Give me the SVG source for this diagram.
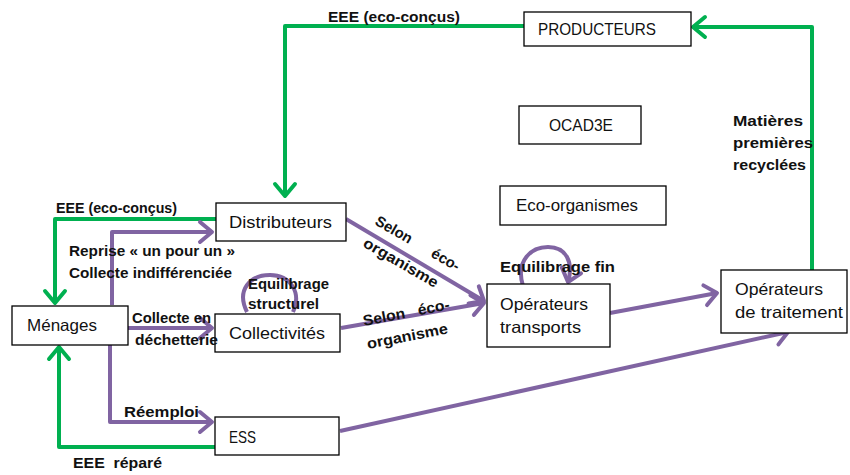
<svg xmlns="http://www.w3.org/2000/svg" width="850" height="475" viewBox="0 0 850 475">
<style>
.box{fill:#fff;stroke:#000;stroke-width:1.3}
.nt{font-family:"Liberation Sans",Arial,sans-serif;font-size:16.5px;fill:#111}
.lb{font-family:"Liberation Sans",Arial,sans-serif;font-size:15px;font-weight:bold;fill:#111}
.g{fill:none;stroke:#00B050;stroke-width:4;stroke-linejoin:round}
.p{fill:none;stroke:#8064A2;stroke-width:4;stroke-linejoin:round}
</style>
<defs>
<marker id="ag" markerUnits="userSpaceOnUse" markerWidth="18" markerHeight="24" refX="13" refY="11" orient="auto" overflow="visible">
<path d="M1,1 L13,11 L1,21" fill="none" stroke="#00B050" stroke-width="4" stroke-linecap="round" stroke-linejoin="round"/>
</marker>
<marker id="ap" markerUnits="userSpaceOnUse" markerWidth="18" markerHeight="24" refX="13" refY="11" orient="auto" overflow="visible">
<path d="M1,1 L13,11 L1,21" fill="none" stroke="#8064A2" stroke-width="4" stroke-linecap="round" stroke-linejoin="round"/>
</marker>
</defs>
<rect width="850" height="475" fill="#fff"/>
<g id="connectors">
<polyline class="g" points="524,26 285,26 285,196" marker-end="url(#ag)"/>
<polyline class="g" points="812,270 812,27 693,27" marker-end="url(#ag)"/>
<polyline class="g" points="216,219 55,219 55,303" marker-end="url(#ag)"/>
<polyline class="g" points="215,447 59,447 59,347" marker-end="url(#ag)"/>
<polyline class="p" points="112,305 112,232 212,232" marker-end="url(#ap)"/>
<polyline class="p" points="128,328 212,328" marker-end="url(#ap)"/>
<polyline class="p" points="110,345 110,422 212,422" marker-end="url(#ap)"/>
<line class="p" x1="346" y1="219" x2="484" y2="301" marker-end="url(#ap)"/>
<line class="p" x1="341" y1="328" x2="484" y2="303" marker-end="url(#ap)"/>
<line class="p" x1="610" y1="313" x2="717" y2="293" marker-end="url(#ap)"/>
<line class="p" x1="340" y1="431" x2="788" y2="332" marker-end="url(#ap)"/>
<path class="p" d="M247,312 C236,290 250,275 270,275 C290,275 302,292 293,312"/>
<path class="p" d="M523,286 C515,260 532,247 548,247 C566,247 574,262 568,282" marker-end="url(#ap)"/>
</g>
<g id="producteurs"><rect class="box" x="524" y="12" width="167" height="34"/><text class="nt" x="538" y="35" textLength="118" lengthAdjust="spacingAndGlyphs">PRODUCTEURS</text></g>
<g id="ocad3e"><rect class="box" x="519" y="106" width="122" height="38"/><text class="nt" x="549" y="131" textLength="64" lengthAdjust="spacingAndGlyphs">OCAD3E</text></g>
<g id="ecoorganismes"><rect class="box" x="500" y="186" width="166" height="39"/><text class="nt" x="516" y="211" textLength="122" lengthAdjust="spacingAndGlyphs">Eco-organismes</text></g>
<g id="distributeurs"><rect class="box" x="216" y="203" width="130" height="38"/><text class="nt" x="229" y="228" textLength="103" lengthAdjust="spacingAndGlyphs">Distributeurs</text></g>
<g id="collectivites"><rect class="box" x="215" y="314" width="125" height="38"/><text class="nt" x="229" y="339" textLength="96" lengthAdjust="spacingAndGlyphs">Collectivités</text></g>
<g id="menages"><rect class="box" x="12" y="306" width="116" height="39"/><text class="nt" x="27" y="331" textLength="70" lengthAdjust="spacingAndGlyphs">Ménages</text></g>
<g id="ess"><rect class="box" x="215" y="417" width="124" height="38"/><text class="nt" x="229" y="443" textLength="27" lengthAdjust="spacingAndGlyphs">ESS</text></g>
<g id="operateurs-transports"><rect class="box" x="487" y="284" width="123" height="63"/><text class="nt" x="500" y="310" textLength="88" lengthAdjust="spacingAndGlyphs">Opérateurs</text><text class="nt" x="500" y="333" textLength="81" lengthAdjust="spacingAndGlyphs">transports</text></g>
<g id="operateurs-traitement"><rect class="box" x="721" y="270" width="126" height="63"/><text class="nt" x="735" y="295" textLength="88" lengthAdjust="spacingAndGlyphs">Opérateurs</text><text class="nt" x="735" y="318" textLength="108" lengthAdjust="spacingAndGlyphs">de traitement</text></g>
<g id="labels">
<text class="lb" x="328" y="22" textLength="132" lengthAdjust="spacingAndGlyphs">EEE (eco-conçus)</text>
<text class="lb" x="56" y="213" textLength="121" lengthAdjust="spacingAndGlyphs">EEE (eco-conçus)</text>
<text class="lb" x="69" y="256" textLength="166" lengthAdjust="spacingAndGlyphs">Reprise « un pour un »</text>
<text class="lb" x="69" y="278" textLength="163" lengthAdjust="spacingAndGlyphs">Collecte indifférenciée</text>
<text class="lb" x="132" y="323" textLength="79" lengthAdjust="spacingAndGlyphs">Collecte en</text>
<text class="lb" x="135" y="345" textLength="83" lengthAdjust="spacingAndGlyphs">déchetterie</text>
<text class="lb" x="248" y="289" textLength="81" lengthAdjust="spacingAndGlyphs">Equilibrage</text>
<text class="lb" x="248" y="309" textLength="71" lengthAdjust="spacingAndGlyphs">structurel</text>
<text class="lb" x="124" y="417" textLength="75" lengthAdjust="spacingAndGlyphs">Réemploi</text>
<text class="lb" x="73" y="468" textLength="89" lengthAdjust="spacingAndGlyphs" xml:space="preserve">EEE  réparé</text>
<text class="lb" x="500" y="272" textLength="115" lengthAdjust="spacingAndGlyphs">Equilibrage fin</text>
<text class="lb" x="733" y="126" textLength="70" lengthAdjust="spacingAndGlyphs">Matières</text>
<text class="lb" x="733" y="148" textLength="80" lengthAdjust="spacingAndGlyphs">premières</text>
<text class="lb" x="733" y="170" textLength="73" lengthAdjust="spacingAndGlyphs">recyclées</text>
<text class="lb" transform="translate(374,224) rotate(30)" textLength="95" lengthAdjust="spacingAndGlyphs" xml:space="preserve">Selon      éco-</text>
<text class="lb" transform="translate(362,246) rotate(30)" textLength="84" lengthAdjust="spacingAndGlyphs">organisme</text>
<text class="lb" transform="translate(364,326) rotate(-11)" textLength="88" lengthAdjust="spacingAndGlyphs" xml:space="preserve">Selon   éco-</text>
<text class="lb" transform="translate(368,349) rotate(-11)" textLength="82" lengthAdjust="spacingAndGlyphs">organisme</text>
</g>
</svg>
